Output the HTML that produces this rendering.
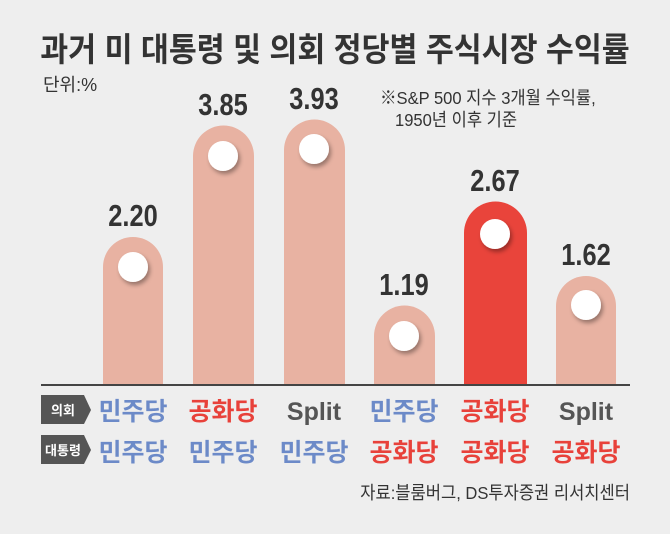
<!DOCTYPE html>
<html><head><meta charset="utf-8"><style>
body{margin:0;width:670px;height:534px;background:#eeeeee;overflow:hidden;font-family:"Liberation Sans","Noto Sans CJK KR",sans-serif}
</style></head><body>
<svg width="670" height="534" xmlns="http://www.w3.org/2000/svg" style="position:absolute;left:0;top:0">
<defs><filter id="s" x="-50%" y="-50%" width="200%" height="200%"><feDropShadow dx="2" dy="3" stdDeviation="2" flood-color="#000" flood-opacity="0.35"/></filter></defs>
<g font-family="Liberation Sans, Noto Sans CJK KR, sans-serif">
<text x="335" y="61" text-anchor="middle" font-size="33" font-weight="bold" fill="#333" transform="translate(335 0) scale(0.92 1) translate(-335 0)">과거 미 대통령 및 의회 정당별 주식시장 수익률</text>
<text x="43" y="91" font-size="18" fill="#333">단위:%</text>
<text x="380" y="104" font-size="18" fill="#333" transform="translate(380 0) scale(0.92 1) translate(-380 0)">※S&amp;P 500 지수 3개월 수익률,</text>
<text x="395" y="126" font-size="18" fill="#333" transform="translate(395 0) scale(0.92 1) translate(-395 0)">1950년 이후 기준</text>
<g fill="#e8b2a2">
<path d="M103 385V267a30 30 0 0 1 60 0V385Z"/>
<path d="M193 385V156a30 30 0 0 1 61 0V385Z"/>
<path d="M284 385V150a30 30 0 0 1 61 0V385Z"/>
<path d="M374 385V336a30 30 0 0 1 61 0V385Z"/>
<path d="M556 385V306a30 30 0 0 1 60 0V385Z"/>
</g>
<path d="M464 385V233a31 31 0 0 1 63 0V385Z" fill="#e9443b"/>
<g fill="#fff" filter="url(#s)">
<circle cx="133" cy="267" r="15"/><circle cx="223" cy="156" r="15"/><circle cx="314" cy="149" r="15"/>
<circle cx="404" cy="336" r="15"/><circle cx="495" cy="234" r="15"/><circle cx="586" cy="305" r="15"/>
</g>
<g font-size="31" font-weight="bold" fill="#333" text-anchor="middle">
<text x="133" y="226" transform="translate(133 0) scale(0.82 1) translate(-133 0)">2.20</text>
<text x="223" y="115" transform="translate(223 0) scale(0.82 1) translate(-223 0)">3.85</text>
<text x="314" y="109" transform="translate(314 0) scale(0.82 1) translate(-314 0)">3.93</text>
<text x="404" y="295" transform="translate(404 0) scale(0.82 1) translate(-404 0)">1.19</text>
<text x="495" y="191" transform="translate(495 0) scale(0.82 1) translate(-495 0)">2.67</text>
<text x="586" y="265" transform="translate(586 0) scale(0.82 1) translate(-586 0)">1.62</text>
</g>
<line x1="41" y1="385" x2="630" y2="385" stroke="#444" stroke-width="2"/>
<path d="M41 395H84L91 410L84 424H41Z" fill="#555"/>
<path d="M41 435H84L91 450L84 464H41Z" fill="#555"/>
<text x="63" y="415" font-size="13" font-weight="bold" fill="#fff" text-anchor="middle">의회</text>
<text x="63" y="455" font-size="13" font-weight="bold" fill="#fff" text-anchor="middle">대통령</text>
<g font-size="25" font-weight="bold" text-anchor="middle">
<text x="133" y="420" fill="#6c8ac8">민주당</text><text x="223" y="420" fill="#e8413a">공화당</text><text x="314" y="420" fill="#555">Split</text>
<text x="404" y="420" fill="#6c8ac8">민주당</text><text x="495" y="420" fill="#e8413a">공화당</text><text x="586" y="420" fill="#555">Split</text>
<text x="133" y="461" fill="#6c8ac8">민주당</text><text x="223" y="461" fill="#6c8ac8">민주당</text><text x="314" y="461" fill="#6c8ac8">민주당</text>
<text x="404" y="461" fill="#e8413a">공화당</text><text x="495" y="461" fill="#e8413a">공화당</text><text x="586" y="461" fill="#e8413a">공화당</text>
</g>
<text x="630" y="499" font-size="18" fill="#333" text-anchor="end" transform="translate(630 0) scale(0.92 1) translate(-630 0)">자료:블룸버그, DS투자증권 리서치센터</text>
</g>
</svg>
</body></html>
